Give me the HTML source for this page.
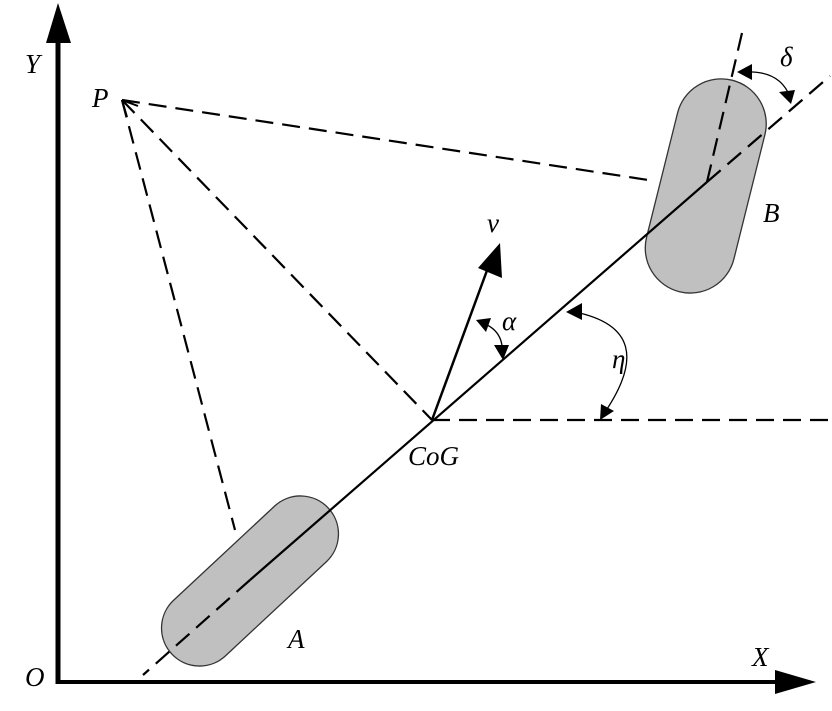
<!DOCTYPE html>
<html><head><style>html,body{margin:0;padding:0;background:#fff}svg{display:block}</style></head>
<body>
<svg width="832" height="711" viewBox="0 0 832 711" xmlns="http://www.w3.org/2000/svg">
<!-- wheels -->
<rect x="143" y="543" width="214" height="76" rx="38" fill="#c0c0c0" stroke="#333" stroke-width="1.3" transform="rotate(-43 250 581)"/>
<rect x="653" y="108" width="90" height="218" rx="45" fill="#c0c0c0" stroke="#333" stroke-width="1.3" transform="rotate(14 698 217) translate(0,-32)"/>
<!-- axes -->
<line x1="58" y1="684" x2="58" y2="40" stroke="#000" stroke-width="5"/>
<polygon points="58,3 46,43 71,43" fill="#000"/>
<line x1="56" y1="682" x2="778" y2="682" stroke="#000" stroke-width="4"/>
<polygon points="816,682 775,670 775,694" fill="#000"/>
<!-- dashed lines -->
<g stroke="#000" stroke-width="2.2" fill="none" stroke-dasharray="18,9">
<line x1="122" y1="100" x2="655" y2="181"/>
<line x1="122" y1="100" x2="432" y2="420"/>
<line x1="122" y1="100" x2="235" y2="530"/>
<line x1="432" y1="420" x2="830" y2="420"/>
<line x1="250" y1="580" x2="143" y2="675"/>
<line x1="707" y1="182" x2="830" y2="76"/>
<line x1="707" y1="182" x2="742" y2="33"/>
</g>
<!-- P arrowhead -->
<path d="M122,100 L127,117 M122,100 L138,106" stroke="#000" stroke-width="2"/>
<!-- body solid -->
<line x1="250" y1="580" x2="707" y2="182" stroke="#000" stroke-width="2.2"/>
<!-- v arrow -->
<line x1="432" y1="420" x2="489" y2="265" stroke="#000" stroke-width="2.5"/>
<polygon points="500,243 478,268 502,278" fill="#000"/>
<!-- arcs -->
<path d="M480,322 Q505,330 502,356" stroke="#000" stroke-width="1.3" fill="none"/>
<polygon points="476,320 491,318 486,332" fill="#000"/>
<polygon points="503,360 494,345 509,345" fill="#000"/>
<path d="M575,312 Q662,330 603,415" stroke="#000" stroke-width="1.3" fill="none"/>
<polygon points="566,312 582,303 582,320" fill="#000"/>
<polygon points="600,420 601,404 614,411" fill="#000"/>
<path d="M744,72 Q780,70 790,97" stroke="#000" stroke-width="1.3" fill="none"/>
<polygon points="737,72 752,64 752,80" fill="#000"/>
<polygon points="791,104 779,92 795,90" fill="#000"/>
<!-- labels -->
<g font-family="Liberation Serif, serif" font-style="italic" font-size="27" fill="#000">
<text x="25" y="73">Y</text>
<text x="92" y="107">P</text>
<text x="487" y="232">v</text>
<text x="502" y="330">α</text>
<text x="612" y="368">η</text>
<text x="408" y="465">CoG</text>
<text x="763" y="222">B</text>
<text x="780" y="66">δ</text>
<text x="288" y="648">A</text>
<text x="752" y="666">X</text>
<text x="25" y="686">O</text>
</g>
</svg>
</body></html>
